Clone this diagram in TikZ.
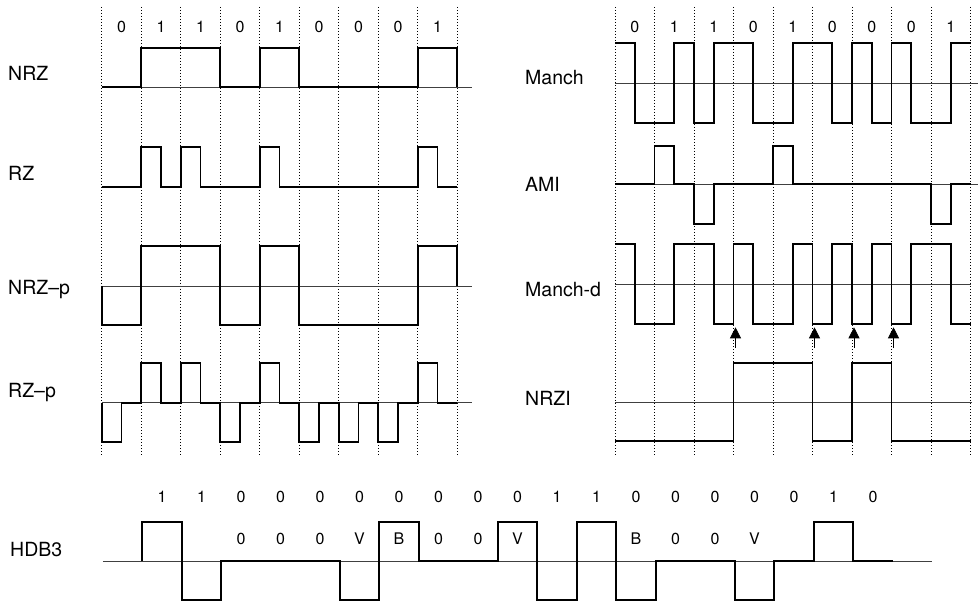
\documentclass[tikz,border=0pt]{standalone}
\usepackage{fontspec}
\setmainfont{TeX Gyre Heros}
\usetikzlibrary{arrows.meta}
\begin{document}
\begin{tikzpicture}[x=1pt,y=-1pt,
  sig/.style={line width=1.8pt,line join=miter,line cap=butt},
  axis/.style={line width=0.8pt,black!75},
  grid/.style={line width=0.8pt,dash pattern=on 1pt off 2pt},
  lbl/.style={anchor=west,inner sep=0pt,font=\fontsize{19.5}{19.5}\selectfont},
  bit/.style={inner sep=0pt,font=\fontsize{16}{16}\selectfont},
  arr/.style={line width=0.8pt,-{Triangle[width=11pt,length=11pt]}}]
\useasboundingbox (0,0) rectangle (979,601);

% ---------- left panel ----------
\begin{scope}[shift={(101.7pt,0pt)},x=39.5pt]
  \foreach \i in {0,...,9} \draw[grid] (\i,7) -- (\i,455);
  \foreach \b [count=\k from 0] in {0,1,1,0,1,0,0,0,1}
    \node[bit] (lb\k) at (\k+0.5,27) {\b};
  % NRZ
  \draw[axis] (0,87.3) -- (9.375,87.3);
  \draw[sig] (0,87.3) -- (1,87.3) -- (1,47.7) -- (3,47.7) -- (3,87.3) -- (4,87.3) -- (4,47.7) -- (5,47.7) -- (5,87.3) -- (8,87.3) -- (8,47.7) -- (9,47.7) -- (9,87.3);
  % RZ
  \draw[sig] (0,186.7) -- (1,186.7) -- (1,146.7) -- (1.5,146.7) -- (1.5,186.7) -- (2,186.7) -- (2,146.7) -- (2.5,146.7) -- (2.5,186.7) -- (4,186.7) -- (4,146.7) -- (4.5,146.7) -- (4.5,186.7) -- (8,186.7) -- (8,146.7) -- (8.5,146.7) -- (8.5,186.7) -- (9,186.7);
  % NRZ-p
  \draw[axis] (0,286) -- (9.375,286);
  \draw[sig] (0,286) -- (0,325) -- (1,325) -- (1,246) -- (3,246) -- (3,325) -- (4,325) -- (4,246) -- (5,246) -- (5,325) -- (8,325) -- (8,246) -- (9,246) -- (9,286);
  % RZ-p
  \draw[axis] (0,402.7) -- (9.375,402.7);
  \draw[sig] (0,402.7) -- (0,441.7) -- (0.5,441.7) -- (0.5,402.7) -- (1,402.7) -- (1,363.3) -- (1.5,363.3) -- (1.5,402.7) -- (2,402.7) -- (2,363.3) -- (2.5,363.3) -- (2.5,402.7) -- (3,402.7) -- (3,441.7) -- (3.5,441.7) -- (3.5,402.7) -- (4,402.7) -- (4,363.3) -- (4.5,363.3) -- (4.5,402.7) -- (5,402.7) -- (5,441.7) -- (5.5,441.7) -- (5.5,402.7) -- (6,402.7) -- (6,441.7) -- (6.5,441.7) -- (6.5,402.7) -- (7,402.7) -- (7,441.7) -- (7.5,441.7) -- (7.5,402.7) -- (8,402.7) -- (8,363.3) -- (8.5,363.3) -- (8.5,402.7) -- (9,402.7);
\end{scope}
\node[lbl] (nNRZ)  at (8,73)  {NRZ};
\node[lbl] (nRZ)   at (8,173) {RZ};
\node[lbl] (nNRZp) at (8,290) {NRZ\textendash p};
\node[lbl] (nRZp)  at (8,393) {RZ\textendash p};

% ---------- right panel ----------
\begin{scope}[shift={(615pt,0pt)},x=39.5pt]
  \foreach \i in {0,...,9} \draw[grid] (\i,7) -- (\i,455);
  \foreach \b [count=\k from 0] in {0,1,1,0,1,0,0,0,1}
    \node[bit] (rb\k) at (\k+0.5,27) {\b};
  % Manch
  \draw[axis] (0,83.3) -- (9.19,83.3);
  \draw[sig] (0,43.3) -- (0.5,43.3) -- (0.5,122.7) -- (1.5,122.7) -- (1.5,43.3) -- (2,43.3) -- (2,122.7) -- (2.5,122.7) -- (2.5,43.3) -- (3.5,43.3) -- (3.5,122.7) -- (4.5,122.7) -- (4.5,43.3) -- (5.5,43.3) -- (5.5,122.7) -- (6,122.7) -- (6,43.3) -- (6.5,43.3) -- (6.5,122.7) -- (7,122.7) -- (7,43.3) -- (7.5,43.3) -- (7.5,122.7) -- (8.5,122.7) -- (8.5,43.3) -- (9,43.3);
  % AMI
  \draw[axis] (0,184.3) -- (9.19,184.3);
  \draw[sig] (0,184.3) -- (1,184.3) -- (1,145.7) -- (1.5,145.7) -- (1.5,184.3) -- (2,184.3) -- (2,224.3) -- (2.5,224.3) -- (2.5,184.3) -- (4,184.3) -- (4,145.7) -- (4.5,145.7) -- (4.5,184.3) -- (8,184.3) -- (8,224.3) -- (8.5,224.3) -- (8.5,184.3) -- (9,184.3);
  % Manch-d
  \draw[axis] (0,284) -- (9,284);
  \draw[sig] (0,244.3) -- (0.5,244.3) -- (0.5,323.7) -- (1.5,323.7) -- (1.5,244.3) -- (2.5,244.3) -- (2.5,323.7) -- (3,323.7) -- (3,244.3) -- (3.5,244.3) -- (3.5,323.7) -- (4.5,323.7) -- (4.5,244.3) -- (5,244.3) -- (5,323.7) -- (5.5,323.7) -- (5.5,244.3) -- (6,244.3) -- (6,323.7) -- (6.5,323.7) -- (6.5,244.3) -- (7,244.3) -- (7,323.7) -- (7.5,323.7) -- (7.5,244.3) -- (8.5,244.3) -- (8.5,323.7) -- (9,323.7);
  % arrows
  \foreach \i in {3,5,6,7} {
    \coordinate (at\i) at ([xshift=2pt]\i,348);
    \coordinate (ah\i) at ([xshift=2pt]\i,327.3);
    \draw[arr] (at\i) -- (ah\i);
  }
  % NRZI
  \draw[axis] (0,402) -- (9.05,402);
  \draw[sig] (0,441.3) -- (3,441.3) -- (3,363.3) -- (5,363.3) -- (5,441.3) -- (6,441.3) -- (6,363.3) -- (7,363.3) -- (7,441.3) -- (9,441.3);
\end{scope}
\node[lbl] (nManch)  at (525,78)  {Manch};
\node[lbl] (nAMI)    at (525,184) {AMI};
\node[lbl] (nManchd) at (525,290) {Manch-d};
\node[lbl] (nNRZI)   at (525,398) {NRZI};

% ---------- HDB3 ----------
\begin{scope}[shift={(142.3pt,0pt)},x=39.5pt]
  \draw[axis] (-1,561) -- (20,561);
  \draw[sig] (0,561) -- (0,521.7) -- (1,521.7) -- (1,600) -- (2,600) -- (2,561) -- (5,561) -- (5,600) -- (6,600) -- (6,521.7) -- (7,521.7) -- (7,561) -- (9,561) -- (9,521.7) -- (10,521.7) -- (10,600) -- (11,600) -- (11,521.7) -- (12,521.7) -- (12,600) -- (13,600) -- (13,561) -- (15,561) -- (15,600) -- (16,600) -- (16,561) -- (17,561) -- (17,521.7) -- (18,521.7) -- (18,561) -- (19,561);
  \foreach \b [count=\k from 0] in {1,1,0,0,0,0,0,0,0,0,1,1,0,0,0,0,0,1,0}
    \node[bit] (hb\k) at (\k+0.5,496.7) {\b};
  \foreach \k/\t in {2/0,3/0,4/0,5/V,6/B,7/0,8/0,9/V,12/B,13/0,14/0,15/V}
    \node[bit] (hc\k) at (\k+0.5,539) {\t};
\end{scope}
\node[lbl] (nHDB3) at (10,550) {HDB3};
\end{tikzpicture}
\end{document}
